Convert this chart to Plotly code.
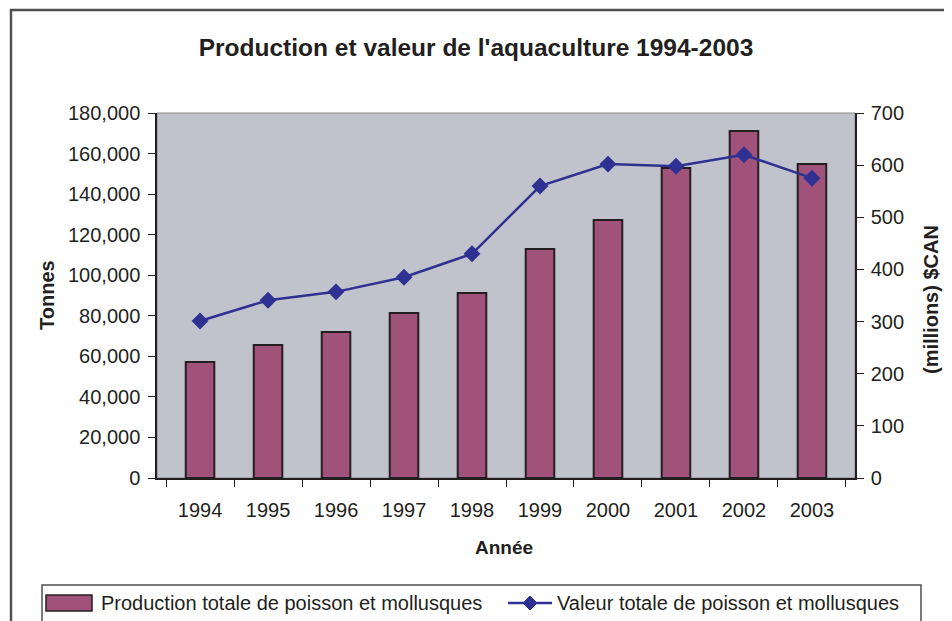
import plotly.graph_objects as go

years = ["1994", "1995", "1996", "1997", "1998", "1999", "2000", "2001", "2002", "2003"]
production_tonnes = [57200, 65600, 72000, 81400, 91200, 112900, 127200, 152900, 171100, 154800]
valeur_millions = [301, 341, 357, 385, 430, 560, 602, 598, 620, 575]
left_ticks = [0, 20000, 40000, 60000, 80000, 100000, 120000, 140000, 160000, 180000]
right_ticks = [0, 100, 200, 300, 400, 500, 600, 700]
bar_name = "Production totale de poisson et mollusques"
line_name = "Valeur totale de poisson et mollusques"

# the page body adds an 8px offset; lay out in reference pixel coords minus OFF
OFF = 8
W, H = 952 - OFF, 621 - OFF
L, R, T, B = 157, 855, 113, 478  # reference pixel coords of plot area

def px(x):
    return (x - L) / (R - L)

def py(y):
    return (B - y) / (B - T)

FONT = "Liberation Sans, Arial, sans-serif"
TXT = "#231F20"
BAR_COLOR = "#A0527A"
LINE_COLOR = "#2E3192"
FS = 20

fig = go.Figure()
fig.add_trace(go.Bar(
    x=years, y=production_tonnes, name=bar_name,
    marker=dict(color=BAR_COLOR, line=dict(color="#231F20", width=2)),
    width=0.42,
))
fig.add_trace(go.Scatter(
    x=years, y=valeur_millions, yaxis="y2", name=line_name,
    mode="lines+markers",
    line=dict(color=LINE_COLOR, width=2.5),
    marker=dict(symbol="diamond", size=13, color=LINE_COLOR),
))

leg_y = 603
dx, dy = 7, 7  # legend diamond half-size in px
diamond = "M {} {} L {} {} L {} {} L {} {} Z".format(
    px(530), py(leg_y - dy), px(530 + dx), py(leg_y),
    px(530), py(leg_y + dy), px(530 - dx), py(leg_y))

fig.update_layout(
    width=W, height=H,
    margin=dict(l=L - OFF, r=W - (R - OFF), t=T - OFF, b=H - (B - OFF), pad=0, autoexpand=False),
    paper_bgcolor="white",
    plot_bgcolor="#C0C3CB",
    font=dict(family=FONT, size=FS, color=TXT),
    showlegend=False,
    title=dict(
        text="<b>Production et valeur de l'aquaculture 1994-2003</b>",
        x=px(476), xref="paper", xanchor="center",
        y=1 - (47 - OFF) / H, yref="container", yanchor="middle",
        font=dict(family=FONT, size=24.5, color=TXT),
    ),
    xaxis=dict(
        type="category", tickson="boundaries",
        ticks="outside", ticklen=7, tickcolor="#231F20", tickwidth=1,
        showline=True, linecolor="#231F20", linewidth=1.5,
        showgrid=False, zeroline=False,
        tickfont=dict(size=FS), ticklabelstandoff=13,
    ),
    yaxis=dict(
        range=[0, 180000], tickvals=left_ticks, tickformat=",",
        ticks="outside", ticklen=7, tickcolor="#231F20",
        showline=True, linecolor="#231F20", linewidth=1.5,
        showgrid=False, zeroline=False,
        tickfont=dict(size=FS), ticklabelstandoff=4,
    ),
    yaxis2=dict(
        range=[0, 700], tickvals=right_ticks, overlaying="y", side="right",
        ticks="outside", ticklen=7, tickcolor="#231F20",
        showline=True, linecolor="#231F20", linewidth=1.5,
        showgrid=False, zeroline=False,
        tickfont=dict(size=FS), ticklabelstandoff=3,
    ),
    shapes=[
        dict(type="rect", xref="paper", yref="paper", x0=0, y0=0, x1=1, y1=1,
             line=dict(color="#8A8A8A", width=1), layer="below"),
        # outer frame (right and bottom edges lie beyond the visible page)
        dict(type="rect", xref="paper", yref="paper",
             x0=px(11), y0=py(660), x1=px(990), y1=py(10),
             line=dict(color="#505050", width=2.5)),
        # legend box
        dict(type="rect", xref="paper", yref="paper",
             x0=px(42), y0=py(650), x1=px(921), y1=py(585),
             line=dict(color="#505050", width=1.5), fillcolor="white"),
        # bar legend symbol
        dict(type="rect", xref="paper", yref="paper",
             x0=px(46), y0=py(611), x1=px(92), y1=py(595),
             line=dict(color="#231F20", width=1.5), fillcolor=BAR_COLOR),
        # line legend symbol
        dict(type="line", xref="paper", yref="paper",
             x0=px(508), y0=py(leg_y), x1=px(552), y1=py(leg_y),
             line=dict(color=LINE_COLOR, width=2.5)),
        dict(type="path", xref="paper", yref="paper", path=diamond,
             fillcolor=LINE_COLOR, line=dict(color=LINE_COLOR, width=1)),
    ],
    annotations=[
        dict(text="<b>Tonnes</b>", xref="paper", yref="paper", x=px(47), y=py(295),
             xanchor="center", yanchor="middle", textangle=-90, showarrow=False,
             font=dict(size=FS)),
        dict(text="<b>(millions) $CAN</b>", xref="paper", yref="paper", x=px(931), y=py(300),
             xanchor="center", yanchor="middle", textangle=-90, showarrow=False,
             font=dict(size=FS)),
        dict(text="<b>Année</b>", xref="paper", yref="paper", x=px(504), y=py(547),
             xanchor="center", yanchor="middle", showarrow=False,
             font=dict(size=FS - 1)),
        dict(text=bar_name, xref="paper", yref="paper", x=px(99), y=py(leg_y),
             xanchor="left", yanchor="middle", showarrow=False,
             font=dict(size=FS)),
        dict(text=line_name, xref="paper", yref="paper", x=px(555), y=py(leg_y),
             xanchor="left", yanchor="middle", showarrow=False,
             font=dict(size=FS)),
    ],
)

fig.write_html("out.html")
